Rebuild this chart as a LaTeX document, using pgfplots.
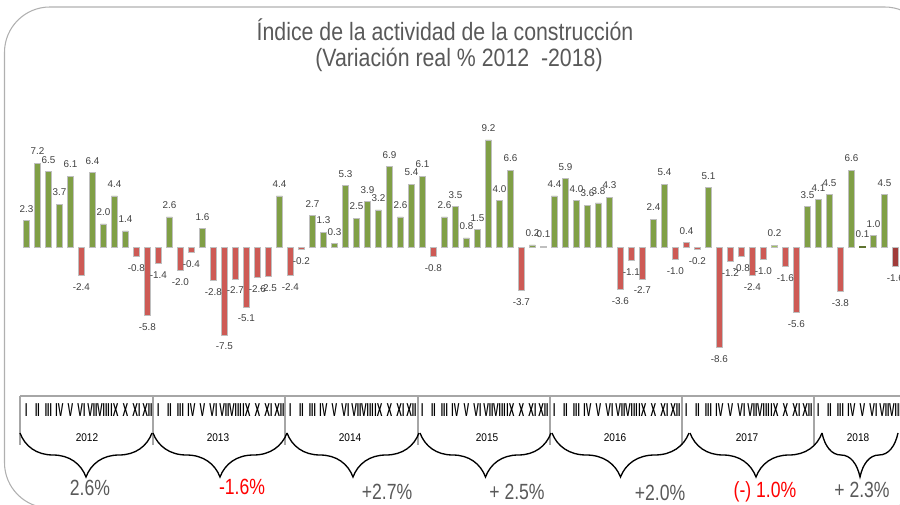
\documentclass[border=0pt]{standalone}
\usepackage{pgfplots}
\pgfplotsset{compat=1.18}
\usepackage{fontspec}
\setmainfont{Liberation Sans}
\newfontfamily\titlefont[FakeStretch=0.85]{Liberation Sans}
\newfontfamily\pctfont[FakeStretch=0.8]{Liberation Sans}
\newfontfamily\romfont[FakeStretch=0.45]{Liberation Sans}
\newfontfamily\yearfont[FakeStretch=0.9]{Liberation Sans}
\usetikzlibrary{decorations.pathreplacing}
\definecolor{barg}{HTML}{809F46}
\definecolor{barr}{HTML}{CD5A55}
\definecolor{barlg}{HTML}{9CC05A}
\definecolor{bardo}{HTML}{5E7330}
\definecolor{bardr}{HTML}{A03C3A}
\definecolor{txtg}{HTML}{595959}
\definecolor{lblg}{HTML}{404040}
\definecolor{frameg}{HTML}{B0B0B0}
\begin{document}
\begin{tikzpicture}[x=0.75pt,y=0.75pt]
\useasboundingbox (0,0) rectangle (900,504);
% outer frame
\draw[frameg, line width=0.8pt, rounded corners=34pt] (4.5,497) rectangle (930,-4);
% title
\node[font=\titlefont\fontsize{18.8}{21}\selectfont, text=txtg] at (445,474) {Índice de la actividad de la construcción};
\node[font=\titlefont\fontsize{18.8}{21}\selectfont, text=txtg] at (459,444) {(Variación real \% 2012\ \ -2018)};
\begin{axis}[
  at={(14,120)}, anchor=south west,
  scale only axis, width=668.25pt, height=175.05pt,
  xmin=0, xmax=81, ymin=-10, ymax=10,
  axis x line*=bottom, axis y line=none,
  x axis line style={draw=none},
  xtick={1,...,80}, xtick style={draw=none},
  xticklabels={I,II,III,IV,V,VI,VII,VIII,IX,X,XI,XII,I,II,III,IV,V,VI,VII,VIII,IX,X,XI,XII,I,II,III,IV,V,VI,VII,VIII,IX,X,XI,XII,I,II,III,IV,V,VI,VII,VIII,IX,X,XI,XII,I,II,III,IV,V,VI,VII,VIII,IX,X,XI,XII,I,II,III,IV,V,VI,VII,VIII,IX,X,XI,XII,I,II,III,IV,V,VI,VII,VIII},
  xticklabel style={anchor=base, yshift=-35pt, font=\romfont\bfseries\fontsize{14}{14}\selectfont, text=black, inner sep=0pt},
  clip=false,
  /pgf/number format/assume math mode=true,
  /pgf/number format/.cd, fixed, fixed zerofill, precision=1, /pgfplots/.cd,
  nodes near coords,
  every node near coord/.append style={font=\fontsize{7.4}{8}\selectfont, text=lblg, inner ysep=6pt},
  ybar, bar width=4.5pt, bar shift=0pt,
]
\addplot[fill=barg, draw=black!25, line width=0.4pt] coordinates {
(1,2.3)(2,7.2)(3,6.5)(4,3.7)(5,6.1)(7,6.4)(8,2.0)(9,4.4)(10,1.4)(14,2.6)(17,1.6)(24,4.4)(27,2.7)(28,1.3)(29,0.3)(30,5.3)(31,2.5)(32,3.9)(33,3.2)(34,6.9)(35,2.6)(36,5.4)(37,6.1)(39,2.6)(40,3.5)(41,0.8)(42,1.5)(43,9.2)(44,4.0)(45,6.6)(47,0.2)(48,0.1)(49,4.4)(50,5.9)(51,4.0)(52,3.6)(53,3.8)(54,4.3)(58,2.4)(59,5.4)(63,5.1)(72,3.5)(73,4.1)(74,4.5)(76,6.6)(78,1.0)(79,4.5)};
\addplot[fill=barr, draw=black!25, line width=0.4pt] coordinates {
(6,-2.4)(11,-0.8)(12,-5.8)(13,-1.4)(15,-2.0)(16,-0.4)(18,-2.8)(19,-7.5)(20,-2.7)(21,-5.1)(22,-2.6)(23,-2.5)(25,-2.4)(26,-0.2)(38,-0.8)(46,-3.7)(55,-3.6)(56,-1.1)(57,-2.7)(60,-1.0)(61,0.4)(62,-0.2)(64,-8.6)(65,-1.2)(66,-0.8)(67,-2.4)(68,-1.0)(70,-1.6)(71,-5.6)(75,-3.8)};
\addplot[fill=barlg, draw=black!25, line width=0.4pt] coordinates {(69,0.2)};
\addplot[fill=bardo, draw=bardo, line width=0.4pt] coordinates {(77,0.1)};
\addplot[fill=bardr, draw=black!25, line width=0.4pt] coordinates {(80,-1.6)};
\end{axis}
% category frame
\draw[black!35, line width=1.1pt] (20,108) -- (905,108);
\foreach \xx in {20,153,285,418,550,682,814}
  \draw[black!35, line width=1.1pt] (\xx,108) -- (\xx,59);
% years
\foreach \xx/\yy in {87/2012,218/2013,350/2014,487/2015,615/2016,747/2017,858/2018}
  \node[font=\yearfont\fontsize{8.4}{9}\selectfont, anchor=base] at (\xx,63) {\yy};
% braces
\foreach \a/\b in {20/152,153/287,287/419,420/551,552/689,690/822,822/898}
  \draw[black, line width=1pt, decorate, decoration={brace, mirror, amplitude=33pt}] (\a,71) -- (\b,71);
% yearly percentages
\node[font=\pctfont\fontsize{16.5}{18}\selectfont, text=txtg] at (90,16) {2.6\%};
\node[font=\pctfont\fontsize{16.5}{18}\selectfont, text=red] at (242,17) {-1.6\%};
\node[font=\pctfont\fontsize{16.5}{18}\selectfont, text=txtg] at (387,12) {+2.7\%};
\node[font=\pctfont\fontsize{16.5}{18}\selectfont, text=txtg] at (517,12) {+ 2.5\%};
\node[font=\pctfont\fontsize{16.5}{18}\selectfont, text=txtg] at (660,11) {+2.0\%};
\node[font=\pctfont\fontsize{16.5}{18}\selectfont, text=red] at (765,12) {(-) 1.0\%};
\node[font=\pctfont\fontsize{16.5}{18}\selectfont, text=txtg] at (862,14) {+ 2.3\%};
\end{tikzpicture}
\end{document}
